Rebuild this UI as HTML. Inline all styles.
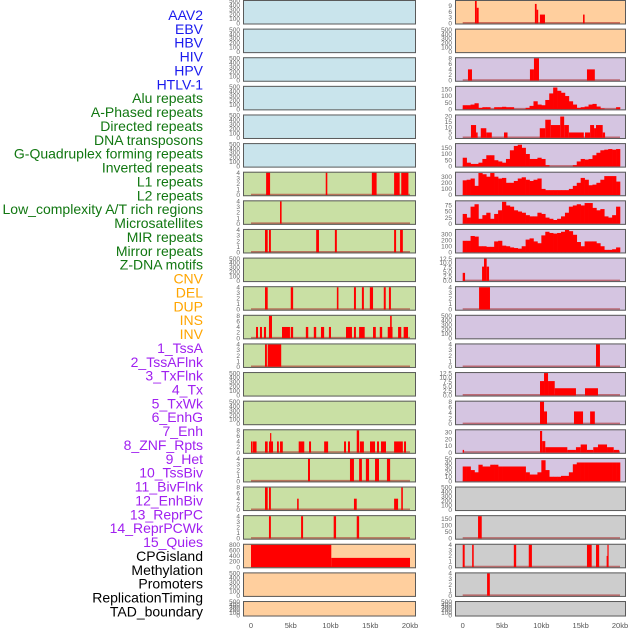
<!DOCTYPE html>
<html><head><meta charset="utf-8"><style>
html,body{margin:0;padding:0;background:#fff;}
svg{display:block;font-family:"Liberation Sans",sans-serif;}
</style></head><body>
<svg id="chart" width="630" height="630" viewBox="0 0 630 630" xmlns="http://www.w3.org/2000/svg"></svg>
<script>
// ---- labels ----
const trackLabels = ["AAV2","EBV","HBV","HIV","HPV","HTLV-1","Alu repeats","A-Phased repeats","Directed repeats","DNA transposons","G-Quadruplex forming repeats","Inverted repeats","L1 repeats","L2 repeats","Low_complexity A/T rich regions","Microsatellites","MIR repeats","Mirror repeats","Z-DNA motifs","CNV","DEL","DUP","INS","INV","1_TssA","2_TssAFlnk","3_TxFlnk","4_Tx","5_TxWk","6_EnhG","7_Enh","8_ZNF_Rpts","9_Het","10_TssBiv","11_BivFlnk","12_EnhBiv","13_ReprPC","14_ReprPCWk","15_Quies","CPGisland","Methylation","Promoters","ReplicationTiming","TAD_boundary"];
const labelColors = ["#1a1aee","#117711","#ffa500","#a020f0","#000000"];
const labelGroup = [0,0,0,0,0,0,1,1,1,1,1,1,1,1,1,1,1,1,1,2,2,2,2,2,3,3,3,3,3,3,3,3,3,3,3,3,3,3,3,4,4,4,4,4];
const xTickLabels = ["0","5kb","10kb","15kb","20kb"];
const xTickValues = [0,5,10,15,20];

// ---- left column segment data [startKb, endKb, value] ----
const L7 = [[1.9,2.4,4],[9.4,9.6,4],[15.2,15.8,4],[18.0,18.7,4],[18.9,19.8,4]];
const L8 = [[3.65,3.85,4]];
const L9 = [[1.76,2.1,4],[2.26,2.5,4],[8.2,8.55,4],[10.55,10.8,4],[18.0,18.25,4],[18.75,19.1,4]];
const L11 = [[1.76,2.1,4],[5.0,5.3,4],[10.8,11.0,4],[12.95,13.2,4],[13.95,14.2,4],[14.95,15.35,4],[16.7,16.95,4],[17.35,17.6,4]];
const L12 = [[0.63,0.88,4],[1.13,1.38,4],[1.63,1.89,4],[2.26,2.64,8],[3.9,4.9,4],[5.0,5.3,4],[6.9,7.2,4],[7.9,8.2,4],[8.8,9.2,4],[9.8,10.06,4],[11.95,12.7,4],[12.95,13.2,4],[13.6,14.3,4],[15.35,15.7,4],[16.2,16.5,4],[17.2,17.8,4],[17.5,17.7,8],[18.5,18.9,4],[19.2,19.75,4]];
const L13 = [[1.76,2.0,4],[2.1,3.8,4]];
const L16 = [[0,0.2,4],[0.25,0.7,4],[1.76,2.1,4],[2.26,2.77,4],[2.4,2.5,7],[3.27,3.5,4],[3.65,4.0,4],[6.0,6.7,4],[7.3,7.55,4],[9.2,9.7,4],[11.7,11.95,4],[12.2,12.45,4],[13.3,13.6,8],[13.7,14.2,4],[14.97,15.6,4],[15.85,16.1,4],[16.35,16.98,4],[18.0,19.1,4],[19.25,19.5,4]];
const L17 = [[7.17,7.42,4],[12.45,12.95,4],[13.6,13.95,4],[14.45,14.85,4],[15.6,16.1,4],[17.1,17.5,4]];
const L18 = [[1.76,2.1,8],[2.26,2.5,8],[5.8,6.0,4],[12.95,13.3,4],[18.0,18.5,4],[18.9,19.1,8]];
const L19 = [[2.26,2.5,4],[6.3,6.55,4],[10.4,10.7,4],[13.3,13.6,4]];
const L20 = [[0,10.1,800],[10.1,20,330]];

// ---- right column segment data ----
const R1 = [[1.56,1.78,11.5],[1.78,2.03,8],[9.18,9.4,10],[9.4,9.6,7],[9.82,10.46,4.5],[15.3,15.5,4.5]];
const R3 = [[0.67,1.18,4],[8.55,9.06,4],[9.06,9.7,8],[15.8,16.8,4]];
const R5 = [[1.05,1.7,12],[1.7,1.9,5],[2.3,3.0,9],[3.0,3.7,5],[5.25,5.7,5],[9.8,10.5,9],[10.5,11.2,17],[11.2,12.4,12],[12.4,12.9,20],[12.9,13.5,12],[13.5,15.4,5],[15.55,16.2,5],[16.2,16.7,12],[16.7,16.95,9],[16.95,17.8,12],[17.8,18.1,5]];
const R10 = [[0,0.3,4.5],[2.46,2.71,8],[2.71,3.05,12.5],[3.05,3.35,8]];
const R11 = [[2.08,3.47,4]];
const R13 = [[16.95,17.45,4]];
const R14 = [[9.83,10.34,8],[10.34,10.85,12.5],[10.85,11.7,8],[11.7,14.4,4],[15.55,17.2,4]];
const R15 = [[9.83,10.34,8],[10.34,10.72,4.5],[14.15,15.3,4.5],[16.2,16.8,4.5]];
const R16 = [[0,0.17,4],[9.83,10.1,32],[10.1,10.5,17],[10.5,13.3,8],[13.3,14.4,4],[14.4,15.0,8],[15.0,15.8,12],[15.8,16.6,4],[16.6,17.2,8],[17.2,18.35,12],[18.35,19.2,8],[19.2,19.9,4]];
const R19 = [[1.95,2.42,170]];
const R20 = [[0,0.25,4],[1.2,1.4,4],[6.5,6.8,4],[8.4,8.8,4],[15.8,16.4,4],[16.95,17.35,4],[18.3,18.4,2],[18.4,18.5,4]];
const R21 = [[3.1,3.45,4]];

// ---- right column binned profiles (0.5kb bins, 0..20kb) ----
const R4 = [30,30,35,45,10,15,15,0,15,15,18,15,15,0,0,0,10,25,60,35,30,70,120,165,140,125,100,60,35,10,15,20,35,40,20,5,0,0,0,15];
const R6 = [70,30,20,20,30,60,90,90,50,40,30,60,130,165,175,150,100,60,60,70,60,10,0,0,0,0,0,0,10,40,60,55,60,90,110,130,135,140,135,140];
const R7 = [240,250,270,150,360,340,300,360,300,270,280,200,200,230,270,290,250,230,250,270,100,80,80,80,80,80,80,100,150,200,280,250,160,170,200,250,310,310,310,220];
const R8 = [40,25,70,80,20,35,45,20,40,55,90,75,70,55,50,45,35,30,30,45,40,25,20,15,20,30,45,70,75,80,75,85,85,65,55,60,30,25,35,70];
const R9 = [190,190,270,260,100,100,90,90,180,190,110,100,80,70,60,100,210,230,180,150,280,340,320,310,320,340,370,350,290,170,100,180,180,180,150,100,40,40,50,80];
const R17 = [33,33,25,20,37,33,33,37,37,33,33,33,33,33,33,33,20,15,15,20,47,25,10,10,10,12,12,20,38,42,42,42,42,42,42,42,42,42,42,42];

// ---- axis tick value arrays ----
const T500 = [0,100,200,300,400,500];
const T4 = [0,1,2,3,4];
const T8 = [0,2,4,6,8];
const T12 = [0,2.5,5,7.5,10,12.5];
const T150 = [0,50,100,150];
const T300 = [0,100,200,300];

const BLUE="#c9e4ec", GREEN="#c9e0a4", PEACH="#ffcf9e", PURPLE="#d5c5e1", GRAY="#cdcdcd";
const panels = [
 // left column
 {c:0,r:0,bg:BLUE,ymax:500,t:T500},{c:0,r:1,bg:BLUE,ymax:500,t:T500},{c:0,r:2,bg:BLUE,ymax:500,t:T500},
 {c:0,r:3,bg:BLUE,ymax:500,t:T500},{c:0,r:4,bg:BLUE,ymax:500,t:T500},{c:0,r:5,bg:BLUE,ymax:500,t:T500},
 {c:0,r:6,bg:GREEN,ymax:4,t:T4,s:L7},{c:0,r:7,bg:GREEN,ymax:4,t:T4,s:L8},{c:0,r:8,bg:GREEN,ymax:4,t:T4,s:L9},
 {c:0,r:9,bg:GREEN,ymax:500,t:T500},{c:0,r:10,bg:GREEN,ymax:4,t:T4,s:L11},{c:0,r:11,bg:GREEN,ymax:8,t:T8,s:L12},
 {c:0,r:12,bg:GREEN,ymax:4,t:T4,s:L13},{c:0,r:13,bg:GREEN,ymax:500,t:T500},{c:0,r:14,bg:GREEN,ymax:500,t:T500},
 {c:0,r:15,bg:GREEN,ymax:8,t:T8,s:L16},{c:0,r:16,bg:GREEN,ymax:4,t:T4,s:L17},{c:0,r:17,bg:GREEN,ymax:8,t:T8,s:L18},
 {c:0,r:18,bg:GREEN,ymax:4,t:T4,s:L19},{c:0,r:19,bg:PEACH,ymax:800,t:[0,200,400,600,800],s:L20},
 {c:0,r:20,bg:PEACH,ymax:500,t:T500},{c:0,r:21,bg:PEACH,ymax:500,t:T500},
 // right column
 {c:1,r:0,bg:PEACH,ymax:11.5,t:[0,3,6,9],s:R1},{c:1,r:1,bg:PEACH,ymax:500,t:T500},
 {c:1,r:2,bg:PURPLE,ymax:8,t:T8,s:R3},{c:1,r:3,bg:PURPLE,ymax:170,t:T150,b:R4},
 {c:1,r:4,bg:PURPLE,ymax:21,t:[0,5,10,15,20],s:R5},{c:1,r:5,bg:PURPLE,ymax:180,t:T150,b:R6},
 {c:1,r:6,bg:PURPLE,ymax:365,t:T300,b:R7},{c:1,r:7,bg:PURPLE,ymax:92,t:[0,25,50,75],b:R8},
 {c:1,r:8,bg:PURPLE,ymax:370,t:T300,b:R9},{c:1,r:9,bg:PURPLE,ymax:12.5,t:T12,s:R10},
 {c:1,r:10,bg:PURPLE,ymax:4,t:T4,s:R11},{c:1,r:11,bg:PURPLE,ymax:500,t:T500},
 {c:1,r:12,bg:PURPLE,ymax:4,t:T4,s:R13},{c:1,r:13,bg:PURPLE,ymax:12.5,t:T12,s:R14},
 {c:1,r:14,bg:PURPLE,ymax:8,t:T8,s:R15},{c:1,r:15,bg:PURPLE,ymax:33,t:[0,10,20,30],s:R16},
 {c:1,r:16,bg:PURPLE,ymax:50,t:[0,10,20,30,40,50],b:R17},{c:1,r:17,bg:GRAY,ymax:500,t:T500},
 {c:1,r:18,bg:GRAY,ymax:170,t:T150,s:R19},{c:1,r:19,bg:GRAY,ymax:4,t:T4,s:R20},
 {c:1,r:20,bg:GRAY,ymax:4,t:T4,s:R21},{c:1,r:21,bg:GRAY,ymax:500,t:T500}
];

const NS="http://www.w3.org/2000/svg";
const svg=document.getElementById('chart');
function mk(tag,attrs,parent){const e=document.createElementNS(NS,tag);for(const k in attrs)e.setAttribute(k,attrs[k]);(parent||svg).appendChild(e);return e;}
const colBox=[[243,416],[455,626]];
const colX=[[251,410],[462.7,620]];
function xs(c,kb){return colX[c][0]+kb*(colX[c][1]-colX[c][0])/20;}
function rowTop(r){return r*28.62;}
function rowH(r){return r===21?15.5:24.5;}

// labels
trackLabels.forEach((t,i)=>{
  const e=mk('text',{x:203,y:20+i*13.87,'text-anchor':'end','font-size':'14',fill:labelColors[labelGroup[i]]});
  e.textContent=t;
  
  
});

function fmt(v,t){return t.some(x=>x%1!==0)?v.toFixed(1):String(v);}

panels.forEach((p,pi)=>{
  const g=mk('g',{});
  
  
  const T=rowTop(p.r),H=rowH(p.r),x0=colBox[p.c][0],x1=colBox[p.c][1];
  const y0=T+H-1.2,y1=T+1;
  const ys=v=>y0-(v/p.ymax)*(y0-y1);
  const bg=mk('rect',{x:x0,y:T,width:x1-x0,height:H,fill:p.bg},g);
  
  
  // y ticks
  p.t.forEach(v=>{
    const tx=mk('text',{x:x0-3,y:ys(v)+2.2,'text-anchor':'end','font-size':'6.5',fill:'#666'},g);
    tx.textContent=fmt(v,p.t);
    
    
  });
  const hasData=p.s||p.b;
  if(hasData){
    const bl=mk('line',{x1:xs(p.c,0),x2:xs(p.c,20),y1:y0-0.5,y2:y0-0.5,stroke:'rgba(170,30,30,0.55)','stroke-width':1.6},g);
    
    
  }
  if(p.s){p.s.forEach(d=>{
    const a=xs(p.c,d[0]),b=xs(p.c,d[1]);
    const r=mk('rect',{x:a,y:ys(d[2]),width:Math.max(1.2,b-a),height:y0-ys(d[2]),fill:'#ff0000'},g);
    
    
  });}
  if(p.b){p.b.forEach((v,i)=>{
    if(v<=0)return;
    const a=xs(p.c,i*0.5),b=xs(p.c,(i+1)*0.5);
    const r=mk('rect',{x:a,y:ys(v),width:b-a+0.3,height:y0-ys(v),fill:'#ff0000'},g);
    
    
  });}
  const br=mk('rect',{x:x0+0.5,y:T+0.5,width:x1-x0-1,height:H-1,fill:'none',stroke:'#5a5a5a','stroke-width':1},g);
  
  
});

// x axis labels
[0,1].forEach(c=>{
  xTickValues.forEach((v,i)=>{
    const e=mk('text',{x:xs(c,v),y:628,'text-anchor':'middle','font-size':'7.5',fill:'#555'});
    e.textContent=xTickLabels[i];
    
    
  });
});
</script>
</body></html>
